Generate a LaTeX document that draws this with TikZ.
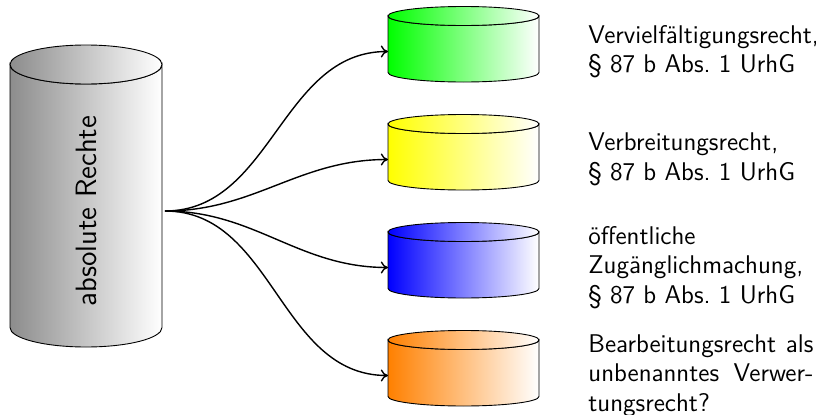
\documentclass[tikz,border=0pt]{standalone}
\usetikzlibrary{arrows.meta}
\begin{document}
\newcommand\mycyl[6]{% #1 cx, #2 top centre y, #3 bottom centre y, #4 rx, #5 ry, #6 shading
  \path[cylline,#6] (#1-#4,#2) -- (#1-#4,#3)
    arc[start angle=180,end angle=360,x radius=#4,y radius=#5]
    -- (#1+#4,#2)
    arc[start angle=0,end angle=-180,x radius=#4,y radius=#5] -- cycle;
  \path[cylline,#6] (#1,#2) ellipse[x radius=#4,y radius=#5];
}
\begin{tikzpicture}[x=0.5pt,y=0.5pt,
  cylline/.style={draw=black,line width=0.45pt},
  conn/.style={line width=0.7pt,-{To[length=3.6pt,width=6pt]}},
  lbl/.style={anchor=west,inner sep=0pt,align=left,
    font=\fontsize{12.8}{14.7}\selectfont\sffamily}]
\useasboundingbox (0,0) rectangle (816,414);
% big cylinder
\mycyl{86}{349.5}{86.5}{76}{19.5}{left color=black!45,right color=white}
\node[rotate=90,inner sep=0pt,font=\fontsize{14.7}{17}\selectfont\sffamily] (big) at (86.5,203) {absolute Rechte};
\coordinate (src) at (165,203);
% small cylinders
\mycyl{463.5}{398}{341.5}{75.5}{9.5}{left color={rgb,255:red,0;green,255;blue,0},right color=white}
\mycyl{463.5}{290}{233.5}{75.5}{9.5}{left color={rgb,255:red,255;green,255;blue,0},right color=white}
\mycyl{463.5}{182}{125.5}{75.5}{9.5}{left color={rgb,255:red,0;green,0;blue,255},right color=white}
\mycyl{463.5}{74}{17.5}{75.5}{9.5}{left color={rgb,255:red,255;green,128;blue,0},right color=white}
\coordinate (t1) at (388,362.5);
\coordinate (t2) at (388,254.5);
\coordinate (t3) at (388,146.5);
\coordinate (t4) at (388,38.5);
% connectors
\draw[conn] (src) to[out=0,in=180] (t1);
\draw[conn] (src) to[out=0,in=180] (t2);
\draw[conn] (src) to[out=0,in=180] (t3);
\draw[conn] (src) to[out=0,in=180] (t4);
% labels
\node[lbl] (r1) at (588,362.5) {Vervielf\"altigungsrecht,\\\S~87 b Abs.~1 UrhG};
\node[lbl] (r2) at (588,254.5) {Verbreitungsrecht,\\\S~87 b Abs.~1 UrhG};
\node[lbl] (r3) at (588,146.5) {\"offentliche\\Zug\"anglichmachung,\\\S~87 b Abs.~1 UrhG};
\node[lbl,align=justify,text width=112.5pt] (r4) at (588,38.5) {Bearbeitungsrecht als\linebreak unbenanntes Verwer-\linebreak tungsrecht?};
\end{tikzpicture}
\end{document}
